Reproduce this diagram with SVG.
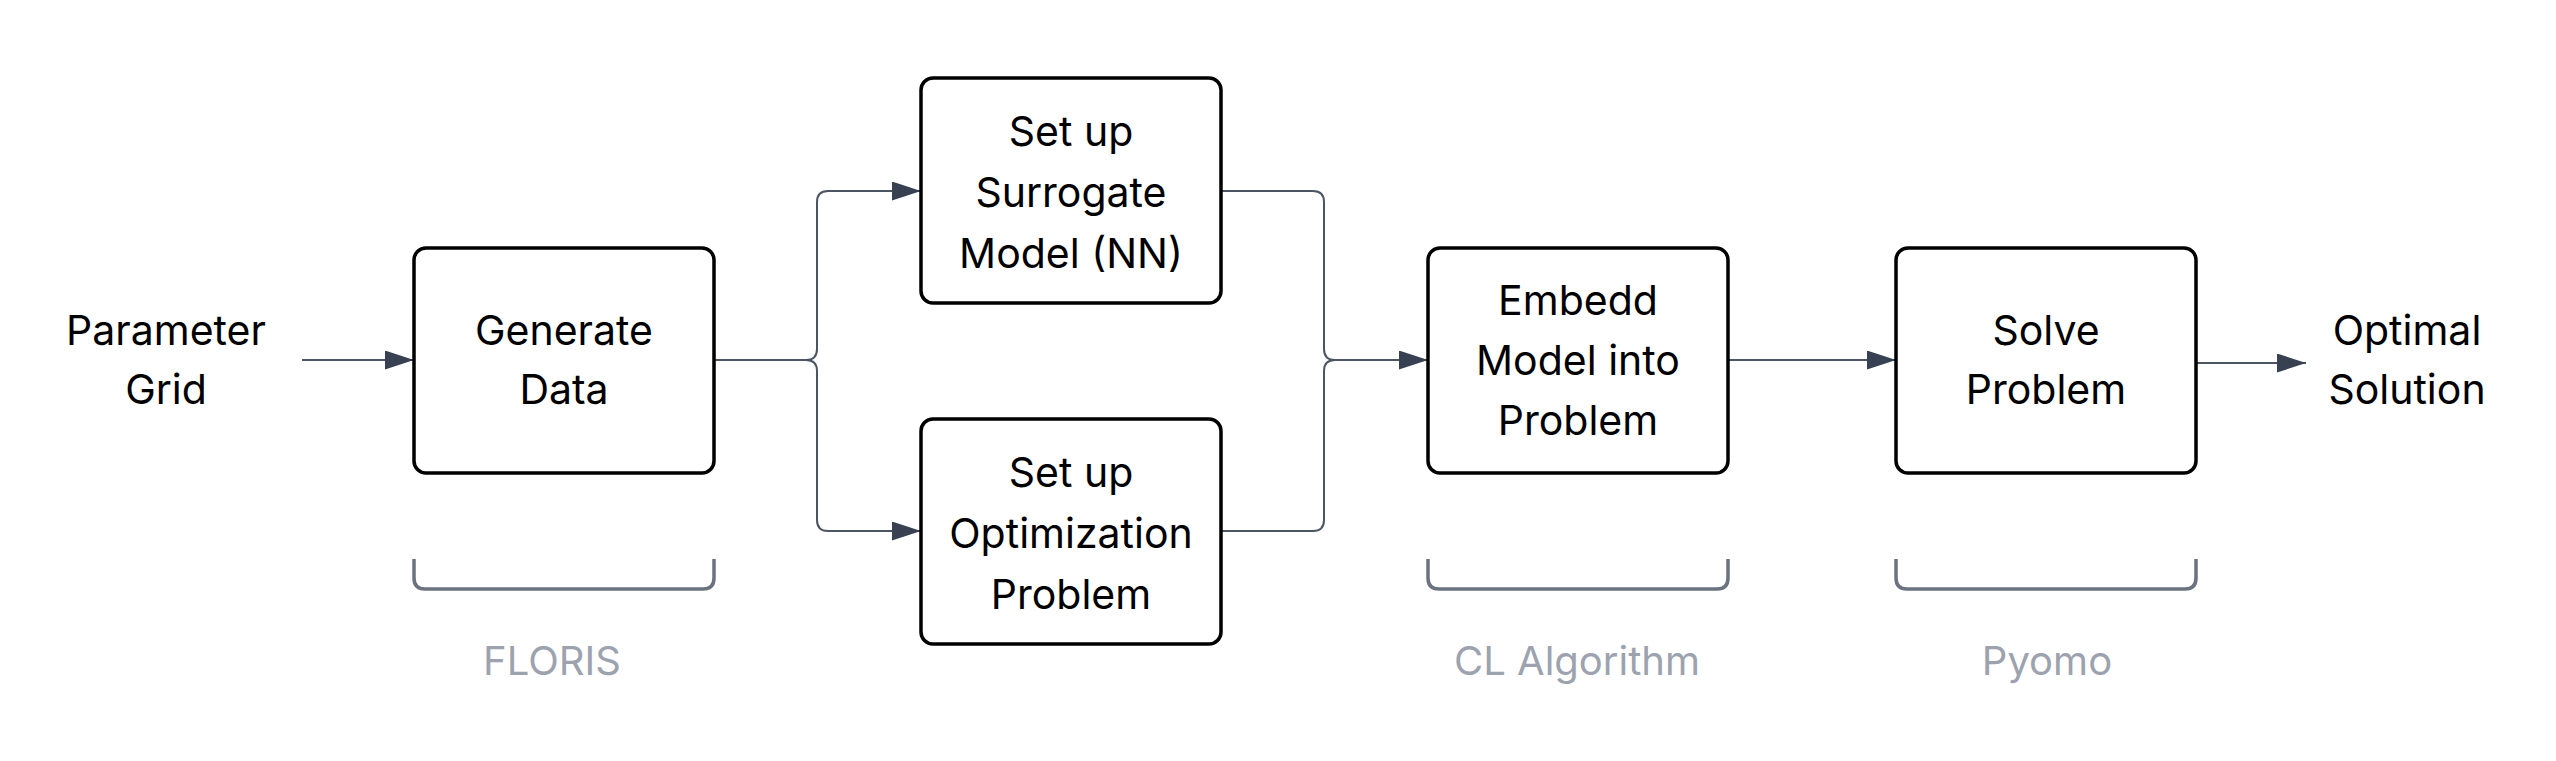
<svg xmlns="http://www.w3.org/2000/svg" width="2556" height="761" viewBox="0 0 2556 761">
<style>
.box{fill:#fff;stroke:#000;stroke-width:3.5}
.t{font-family:Inter,"Liberation Sans",sans-serif;font-size:41px;fill:#000;text-anchor:middle}
.g{font-family:Inter,"Liberation Sans",sans-serif;font-size:40px;fill:#9ca3af;text-anchor:middle}
.c{fill:none;stroke:#4b5563;stroke-width:2}
.br{fill:none;stroke:#6b7280;stroke-width:3.5}
</style>
<defs>
<marker id="ah" markerUnits="userSpaceOnUse" markerWidth="30" markerHeight="20" refX="29" refY="9.5" orient="auto">
<path d="M0,0 L29,9.5 L0,19 z" fill="#374151"/>
</marker>
</defs>
<rect width="2556" height="761" fill="#fff"/>
<g id="connectors">
<path class="c" d="M302,360 H414" marker-end="url(#ah)"/>
<path class="c" d="M714,360 H806 Q817,360 817,349 V202 Q817,191 828,191 H921" marker-end="url(#ah)"/>
<path class="c" d="M806,360 Q817,360 817,371 V520 Q817,531 828,531 H921" marker-end="url(#ah)"/>
<path class="c" d="M1221,191 H1313 Q1324,191 1324,202 V349 Q1324,360 1335,360 H1428" marker-end="url(#ah)"/>
<path class="c" d="M1221,531 H1313 Q1324,531 1324,520 V371 Q1324,360 1335,360"/>
<path class="c" d="M1728,360 H1896" marker-end="url(#ah)"/>
<path class="c" d="M2196,363 H2306" marker-end="url(#ah)"/>
</g>
<g id="parameter-grid">
<text class="t" x="166" y="345">Parameter</text>
<text class="t" x="166" y="404">Grid</text>
</g>
<g id="generate-data">
<rect class="box" x="414" y="248" width="300" height="225" rx="12"/>
<text class="t" x="564" y="345">Generate</text>
<text class="t" x="564" y="404">Data</text>
</g>
<g id="surrogate">
<rect class="box" x="921" y="78" width="300" height="225" rx="12"/>
<text class="t" x="1071" y="146">Set up</text>
<text class="t" x="1071" y="207">Surrogate</text>
<text class="t" x="1071" y="268">Model (NN)</text>
</g>
<g id="optimization">
<rect class="box" x="921" y="419" width="300" height="225" rx="12"/>
<text class="t" x="1071" y="487">Set up</text>
<text class="t" x="1071" y="548">Optimization</text>
<text class="t" x="1071" y="609">Problem</text>
</g>
<g id="embedd">
<rect class="box" x="1428" y="248" width="300" height="225" rx="12"/>
<text class="t" x="1578" y="315">Embedd</text>
<text class="t" x="1578" y="375">Model into</text>
<text class="t" x="1578" y="435">Problem</text>
</g>
<g id="solve">
<rect class="box" x="1896" y="248" width="300" height="225" rx="12"/>
<text class="t" x="2046" y="345">Solve</text>
<text class="t" x="2046" y="404">Problem</text>
</g>
<g id="optimal-solution">
<text class="t" x="2407" y="345">Optimal</text>
<text class="t" x="2407" y="404">Solution</text>
</g>
<g id="floris">
<path class="br" d="M414,559 V578 Q414,589 425,589 H703 Q714,589 714,578 V559"/>
<text class="g" x="552" y="675">FLORIS</text>
</g>
<g id="cl-algorithm">
<path class="br" d="M1428,559 V578 Q1428,589 1439,589 H1717 Q1728,589 1728,578 V559"/>
<text class="g" x="1577" y="675">CL Algorithm</text>
</g>
<g id="pyomo">
<path class="br" d="M1896,559 V578 Q1896,589 1907,589 H2185 Q2196,589 2196,578 V559"/>
<text class="g" x="2047" y="675">Pyomo</text>
</g>
</svg>
